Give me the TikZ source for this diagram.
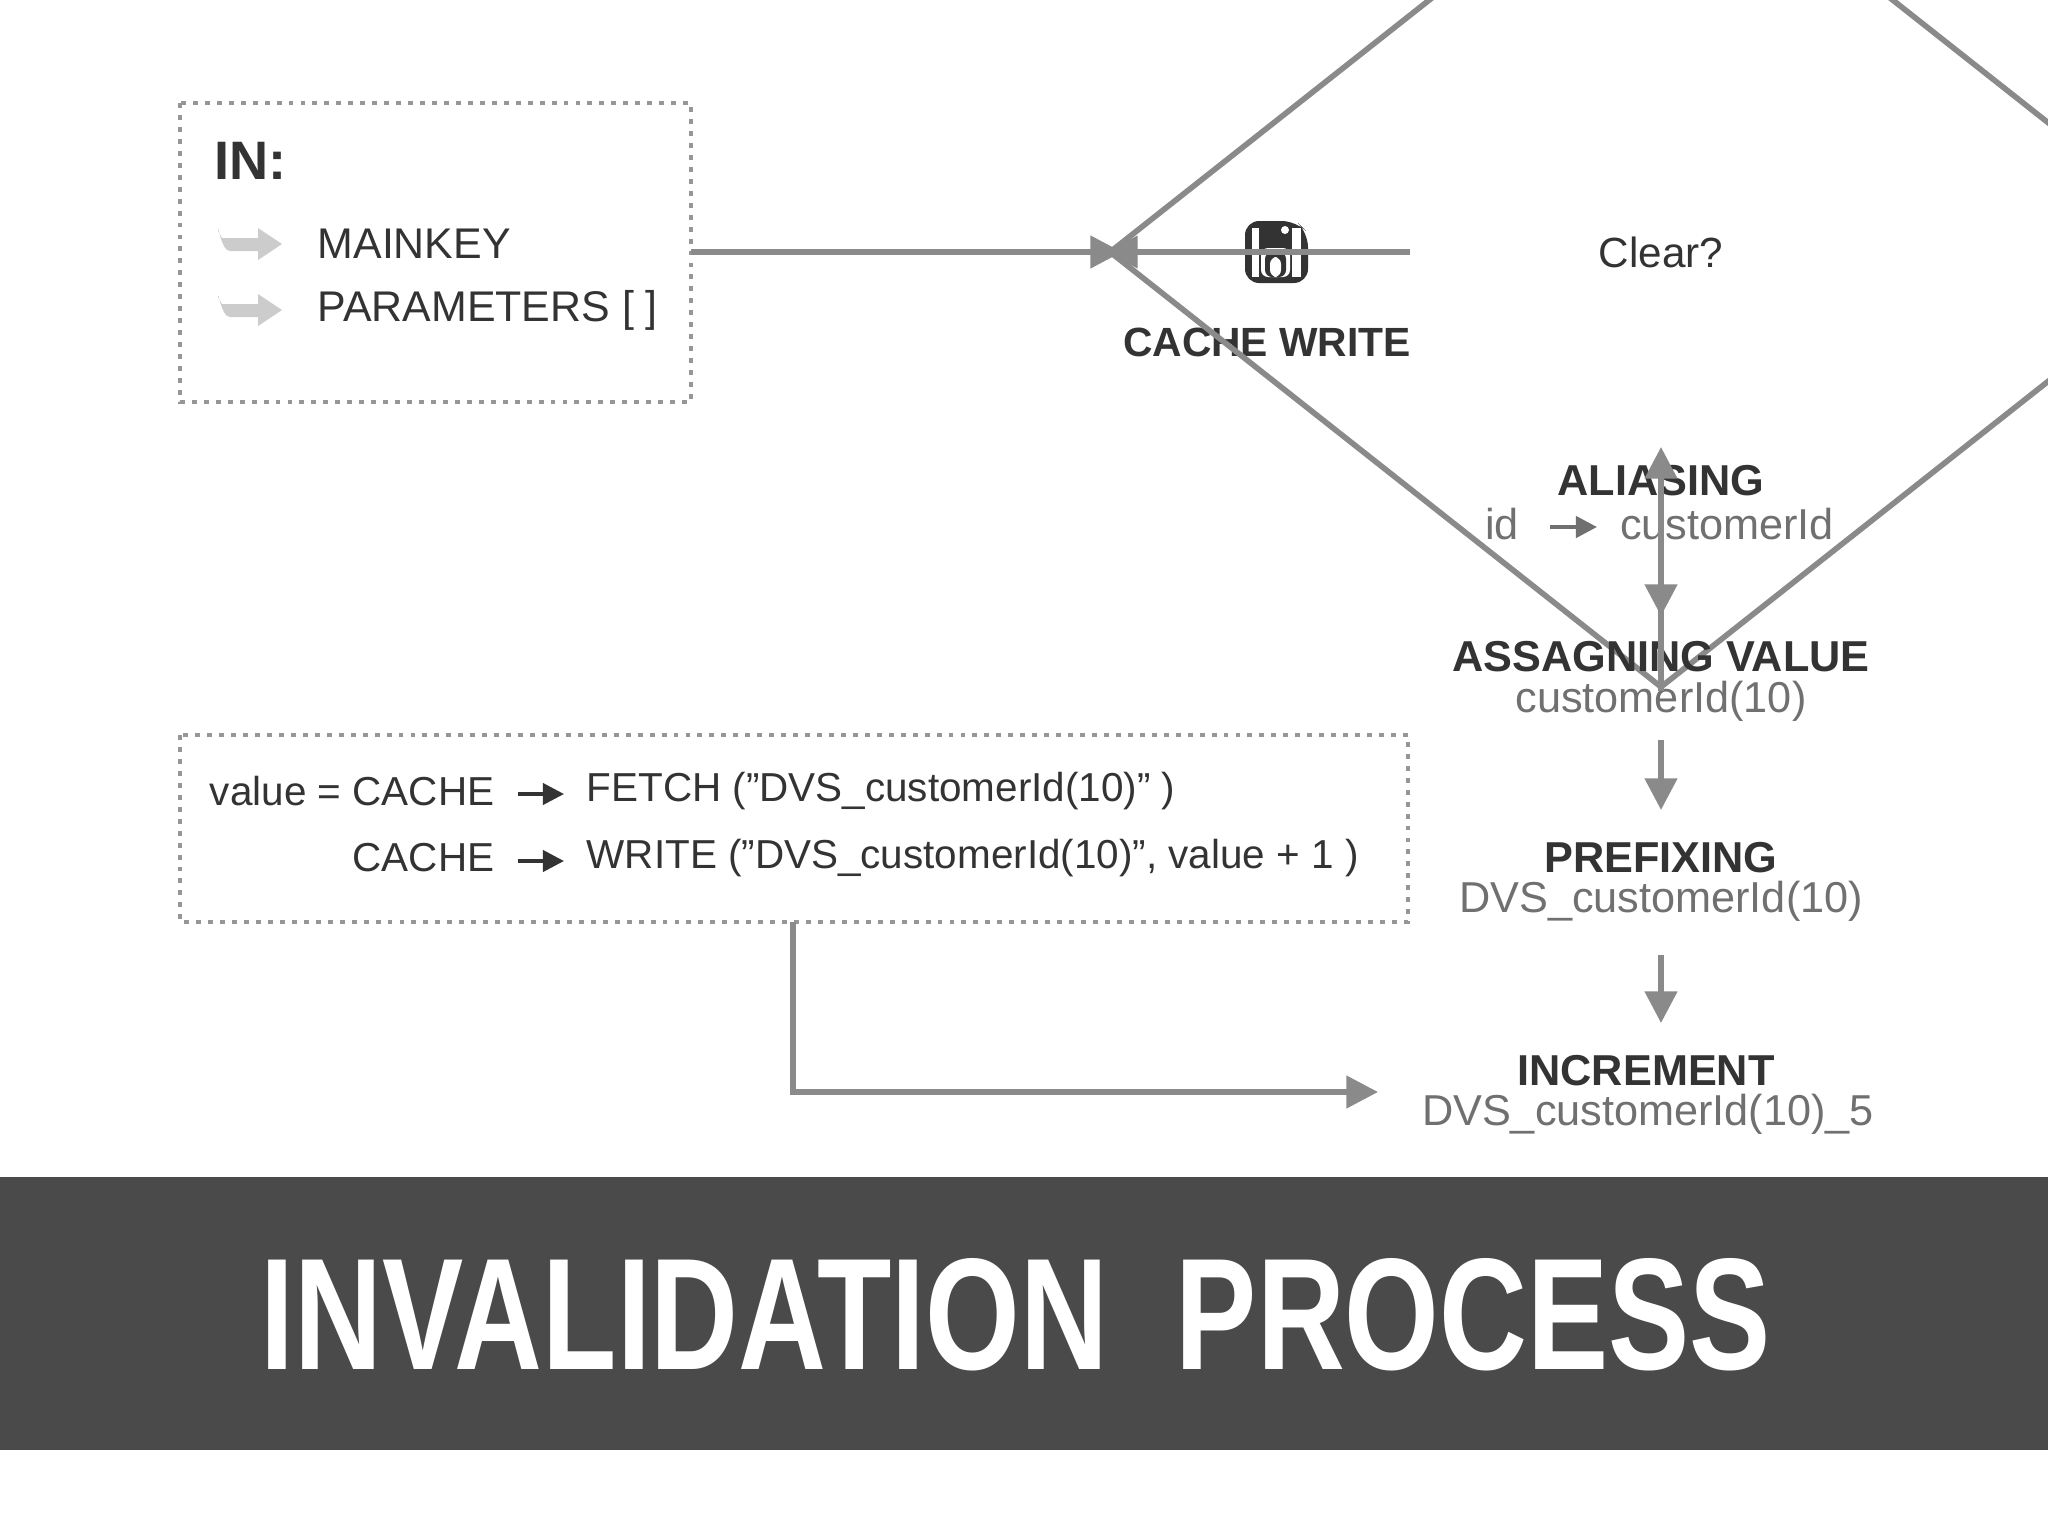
\documentclass[tikz,border=0pt]{standalone}
\usepackage{fontspec}
\setmainfont{Liberation Sans}
\usetikzlibrary{shapes.geometric,arrows.meta}
\definecolor{txt}{HTML}{333333}
\definecolor{sub}{HTML}{707070}
\definecolor{ln}{HTML}{8A8A8A}
\definecolor{band}{HTML}{4A4A4A}
\tikzset{
  x=0.01cm,y=-0.01cm,
  conn/.style={draw=ln,line width=1.6pt,-{Triangle[length=9pt,width=9pt]}},
  dotbox/.style={draw=ln!90,dotted,line width=1.4pt},
  lbl/.style={text=txt,font=\fontsize{12.2}{14}\selectfont,inner sep=0pt},
  hd/.style={text=txt,font=\fontsize{12.3}{14}\selectfont\bfseries,inner sep=0pt},
  sb/.style={text=sub,font=\fontsize{12.3}{14}\selectfont,inner sep=0pt},
  code/.style={text=txt,font=\fontsize{11.5}{14}\selectfont,inner sep=0pt},
  inarrow/.style={fill=gray!40,draw=none}
}
\begin{document}
\begin{tikzpicture}
\useasboundingbox (0,0) rectangle (2048,1536);
\fill[white] (0,0) rectangle (2048,1536);
% IN box
\draw[dotbox] (180,103) rectangle (691,402);
\coordinate (inR) at (691,252);
\node[anchor=west,text=txt,font=\fontsize{15.4}{18}\selectfont\bfseries,inner sep=0pt] (in) at (214,161) {IN:};
\foreach \yy/\nm/\tx in {244/mk/MAINKEY,310/pm/PARAMETERS [ ]}{
  \fill[inarrow] (218,\yy-13) -- (222,\yy-6) -- (258,\yy-6) -- (258,\yy-16) -- (282,\yy) -- (258,\yy+16) -- (258,\yy+7) -- (230,\yy+7) to[out=180,in=90] (218,\yy-13) -- cycle;
  \node[lbl,anchor=west] (\nm) at (317,\yy) {\tx};
}
% floppy icon
\node[minimum size=64,inner sep=0pt] (icon) at (1276,252) {};
\fill[txt,rounded corners=4pt] (1245,221) -- (1296,221) -- (1308,233) -- (1308,283) -- (1245,283) -- cycle;
\fill[white] (1252,228) rectangle (1259,277);
\fill[white,rounded corners=2pt] (1261,248) rectangle (1290,277);
\fill[txt,rounded corners=2pt] (1265,252) rectangle (1286,277);
\fill[white,rounded corners=2pt] (1270,257) rectangle (1281,277);
\fill[white] (1292,228) rectangle (1301,277);
\fill[white] (1285,230) circle (4);
\node[hd,font=\fontsize{11.6}{14}\selectfont\bfseries] (cw) at (1267,342) {CACHE WRITE};
\coordinate (cwL) at (1122,252);
\coordinate (cwR) at (1410,252);
\draw[conn] (inR) -- (cwL);
% diamond
\node[diamond,draw=ln,line width=1.6pt,minimum width=314,minimum height=248,inner sep=0pt,
      text=txt,font=\fontsize{12}{14}\selectfont] (clr) at (1661,252) {Clear?};
\draw[conn] (cwR) -- (clr.west);
% chain
\node[hd] (ali) at (1661,481) {ALIASING};
\node[sb] (id) at (1502,524) {id};
\node[sb] (cid) at (1727,524) {customerId};
\draw[draw=sub,line width=1.2pt,-{Triangle[length=6pt,width=6pt]}] (1550,527) -- (1597,527);
\node[hd] (asv) at (1661,657) {ASSAGNING VALUE};
\node[sb] (asv2) at (1661,701) {customerId(10)};
\node[hd] (pre) at (1661,858) {PREFIXING};
\node[sb] (pre2) at (1661,901) {DVS\_customerId(10)};
\node[hd] (inc) at (1646,1071) {INCREMENT};
\node[sb] (inc2) at (1648,1114) {DVS\_customerId(10)\_5};
\coordinate (a1) at (1661,549); \coordinate (a2) at (1661,616);
\coordinate (b1) at (1661,740); \coordinate (b2) at (1661,810);
\coordinate (c1) at (1661,955); \coordinate (c2) at (1661,1023);
\draw[conn] (clr.south) -- (1661,447);
\draw[conn] (a1) -- (a2);
\draw[conn] (b1) -- (b2);
\draw[conn] (c1) -- (c2);
% code box
\draw[dotbox] (180,735) rectangle (1408,922);
\node[code,anchor=east] (v1) at (495,791) {value = CACHE};
\node[code,anchor=east] (v2) at (495,858) {CACHE};
\node[code,anchor=west] (f1) at (586,791) {FETCH (”DVS\_customerId(10)” )};
\node[code,anchor=west] (f2) at (586,858) {WRITE (”DVS\_customerId(10)”, value + 1 )};
\foreach \yy in {794,861}{
  \draw[draw=txt,line width=1.1pt,-{Triangle[length=6pt,width=6pt]}] (518,\yy) -- (564,\yy);
}
\coordinate (cb) at (793,922);
\coordinate (ie) at (1378,1092);
\draw[conn] (cb) -- (793,1092) -- (ie);
% band
\fill[band] (0,1177) rectangle (2048,1450);
\node[text=white,inner sep=0pt] (title) at (1016,1315)
  {\resizebox{15.09cm}{1.11cm}{\bfseries INVALIDATION\ \ PROCESS}};
\end{tikzpicture}
\end{document}
